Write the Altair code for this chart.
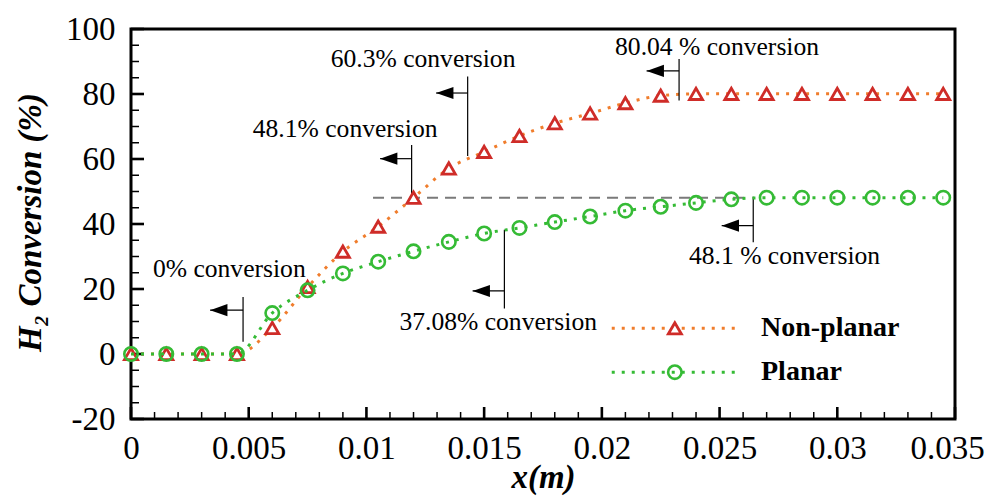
import altair as alt
import pandas as pd

# ---------------- data ----------------
x_m = [0.0, 0.0015, 0.003, 0.0045, 0.006, 0.0075, 0.009, 0.0105, 0.012, 0.0135,
       0.015, 0.0165, 0.018, 0.0195, 0.021, 0.0225, 0.024, 0.0255, 0.027, 0.0285,
       0.03, 0.0315, 0.033, 0.0345]
non_planar = [0, 0, 0, 0, 8.0, 20.6, 31.5, 39.2, 48.1, 57.1,
              62.2, 67.1, 71.0, 74.0, 77.2, 79.5, 80.04, 80.04, 80.04, 80.04,
              80.04, 80.04, 80.04, 80.04]
planar = [0, 0, 0, 0, 12.6, 19.6, 24.8, 28.4, 31.6, 34.5,
          37.08, 38.8, 40.6, 42.3, 44.1, 45.3, 46.5, 47.6, 48.1, 48.1,
          48.1, 48.1, 48.1, 48.1]

x_major = [0, 0.005, 0.01, 0.015, 0.02, 0.025, 0.03, 0.035]
x_minor = [0.001, 0.002, 0.003, 0.004, 0.006, 0.007, 0.008, 0.009,
           0.011, 0.012, 0.013, 0.014, 0.016, 0.017, 0.018, 0.019,
           0.021, 0.022, 0.023, 0.024, 0.026, 0.027, 0.028, 0.029,
           0.031, 0.032, 0.033, 0.034]
y_major = [-20, 0, 20, 40, 60, 80, 100]
y_minor = [-15, -10, -5, 5, 10, 15, 25, 30, 35, 45, 50, 55,
           65, 70, 75, 85, 90, 95]

# annotations: label, label position, vertical marker line, arrow
ann_text = ["0% conversion", "48.1% conversion", "60.3% conversion",
            "80.04 % conversion", "48.1 % conversion", "37.08% conversion"]
ann_text_x = [0.00093, 0.00517, 0.00848, 0.02056, 0.02370, 0.01140]
ann_text_y = [26.3, 69.1, 90.8, 94.6, 30.3, 9.9]
ann_vline_x = [0.00476, 0.01192, 0.0143, 0.02328, 0.02643, 0.01586]
ann_vline_y1 = [3.8, 49.2, 60.9, 78.0, 34.4, 14.0]
ann_vline_y2 = [17.5, 64.3, 85.4, 90.8, 48.4, 38.2]
ann_arrow_y = [13.5, 60.1, 80.3, 87.1, 39.5, 19.4]
ann_arrow_tip = [0.00336, 0.01058, 0.01296, 0.0219, 0.02509, 0.01451]

ref_line_x = [0.01028, 0.02615]
ref_line_y = [48.1]

legend_names = ["Non-planar", "Planar"]
legend_y = [7.9, -5.6]
legend_x = [0.02042, 0.02575]
legend_marker_x = [0.0231]
legend_text_x = [0.02676]

# ---------------- style ----------------
FONT = "Liberation Serif"
RED = "#cf2c28"
ORANGE = "#f07d2c"
GREEN = "#35bb35"
W, H = 824, 390

xs = alt.Scale(domain=[0, 0.035], nice=False, zero=False)
ys = alt.Scale(domain=[-20, 100], nice=False, zero=False)

x_axis = alt.Axis(values=x_major, labelExpr="'' + datum.value", domain=False,
                  ticks=False, tickSize=0, grid=False, labelFont=FONT,
                  labelFontSize=33, labelColor="black", labelPadding=13,
                  labelFlush=False, labelOverlap=False,
                  labelOffset={"condition": {"test": "datum.value >= 0.035", "value": -8},
                               "value": 0},
                  title="x(m)", titleFont=FONT, titleFontSize=33,
                  titleFontStyle="italic", titleFontWeight="bold",
                  titleColor="black", titleBaseline="top", titleY=42)
y_axis = alt.Axis(values=y_major, labelExpr="'' + datum.value", domain=False,
                  ticks=False, tickSize=0, grid=False, labelFont=FONT,
                  labelFontSize=33, labelColor="black", labelPadding=16,
                  labelOverlap=False,
                  title="H₂ Conversion (%)", titleFont=FONT, titleFontSize=33,
                  titleFontStyle="italic", titleFontWeight="bold",
                  titleColor="black", titleAngle=270, titleBaseline="middle",
                  titleAlign="center", titleX=-101, titleY=193)

def X(field="x"):
    return alt.X(f"{field}:Q", scale=xs, axis=x_axis)

def Y(field="y"):
    return alt.Y(f"{field}:Q", scale=ys, axis=y_axis)

df_np = pd.DataFrame({"x": x_m, "y": non_planar})
df_p = pd.DataFrame({"x": x_m, "y": planar})

np_line = alt.Chart(df_np).mark_line(
    color=ORANGE, strokeWidth=3, strokeDash=[3, 7], interpolate="monotone"
).encode(x=X(), y=Y())
np_pts = alt.Chart(df_np).mark_point(
    shape="triangle-up", size=170, filled=True, fill="white", stroke=RED,
    strokeWidth=2.8, opacity=1
).encode(x=X(), y=Y())
p_line = alt.Chart(df_p).mark_line(
    color=GREEN, strokeWidth=3, strokeDash=[3, 7], interpolate="monotone"
).encode(x=X(), y=Y())
p_pts = alt.Chart(df_p).mark_point(
    shape="circle", size=180, filled=False, stroke=GREEN, strokeWidth=2.6,
    opacity=1
).encode(x=X(), y=Y())

# dashed reference line
ref_df = pd.DataFrame({"x": [ref_line_x[0]], "x2": [ref_line_x[1]], "y": ref_line_y})
ref = alt.Chart(ref_df).mark_rule(color="#7a7a7a", strokeWidth=2, strokeDash=[11, 7]).encode(
    x=X(), x2="x2:Q", y=Y())

# annotations
ann_df = pd.DataFrame({
    "text": ann_text, "tx": ann_text_x, "ty": ann_text_y,
    "vx": ann_vline_x, "vy1": ann_vline_y1, "vy2": ann_vline_y2,
    "ay": ann_arrow_y, "tip": ann_arrow_tip,
})
ann_v = alt.Chart(ann_df).mark_rule(color="black", strokeWidth=1.2).encode(
    x=X("vx"), y=Y("vy1"), y2="vy2:Q")
ann_shaft = alt.Chart(ann_df).mark_rule(color="black", strokeWidth=1.2).encode(
    x=X("tip"), x2="vx:Q", y=Y("ay"))
ann_head = alt.Chart(ann_df).mark_point(
    shape="M 0 0 L 2 -0.7 L 2 0.7 Z", size=300, filled=True, color="black",
    opacity=1, strokeWidth=0
).encode(x=X("tip"), y=Y("ay"))
ann_txt = alt.Chart(ann_df).mark_text(
    font=FONT, fontSize=25.6, color="black", align="left", baseline="middle"
).encode(x=X("tx"), y=Y("ty"), text="text:N")

# legend (drawn inside the plot)
leg_df = pd.DataFrame({"name": legend_names, "y": legend_y,
                       "x1": [legend_x[0]] * 2, "x2": [legend_x[1]] * 2,
                       "mx": legend_marker_x * 2, "tx": legend_text_x * 2})
leg_line_np = alt.Chart(leg_df.iloc[[0]]).mark_rule(
    color=ORANGE, strokeWidth=3, strokeDash=[3, 7]).encode(x=X("x1"), x2="x2:Q", y=Y())
leg_line_p = alt.Chart(leg_df.iloc[[1]]).mark_rule(
    color=GREEN, strokeWidth=3, strokeDash=[3, 7]).encode(x=X("x1"), x2="x2:Q", y=Y())
leg_pt_np = alt.Chart(leg_df.iloc[[0]]).mark_point(
    shape="triangle-up", size=170, filled=True, fill="white", stroke=RED,
    strokeWidth=2.8, opacity=1).encode(x=X("mx"), y=Y())
leg_pt_p = alt.Chart(leg_df.iloc[[1]]).mark_point(
    shape="circle", size=180, filled=False, stroke=GREEN, strokeWidth=2.6,
    opacity=1).encode(x=X("mx"), y=Y())
leg_txt = alt.Chart(leg_df).mark_text(
    font=FONT, fontSize=28, fontWeight="bold", color="black", align="left",
    baseline="middle").encode(x=X("tx"), y=Y(), text="name:N")

# inward ticks
xmaj = alt.Chart(pd.DataFrame({"v": x_major})).mark_rule(color="black", strokeWidth=2.6).encode(
    x=X("v"), y=alt.value(H), y2=alt.value(H - 12))
xmin = alt.Chart(pd.DataFrame({"v": x_minor})).mark_rule(color="black", strokeWidth=1.5).encode(
    x=X("v"), y=alt.value(H), y2=alt.value(H - 7))
ymaj = alt.Chart(pd.DataFrame({"v": y_major})).mark_rule(color="black", strokeWidth=2.6).encode(
    y=Y("v"), x=alt.value(0), x2=alt.value(13))
ymin = alt.Chart(pd.DataFrame({"v": y_minor})).mark_rule(color="black", strokeWidth=1.5).encode(
    y=Y("v"), x=alt.value(0), x2=alt.value(8))

chart = alt.layer(
    np_line, ref, xmaj, xmin, ymaj, ymin,
    ann_v, ann_shaft, ann_head, ann_txt,
    np_pts, p_line, p_pts,
    leg_line_np, leg_line_p, leg_pt_np, leg_pt_p, leg_txt,
).properties(
    width=W, height=H,
    background="white",
    autosize=alt.AutoSizeParams(type="none"),
    padding={"left": 123, "top": 21, "right": 30, "bottom": 77},
).configure_view(
    stroke="black", strokeWidth=3
)

chart.save("out.html", embed_options={"renderer": "svg", "actions": False})
